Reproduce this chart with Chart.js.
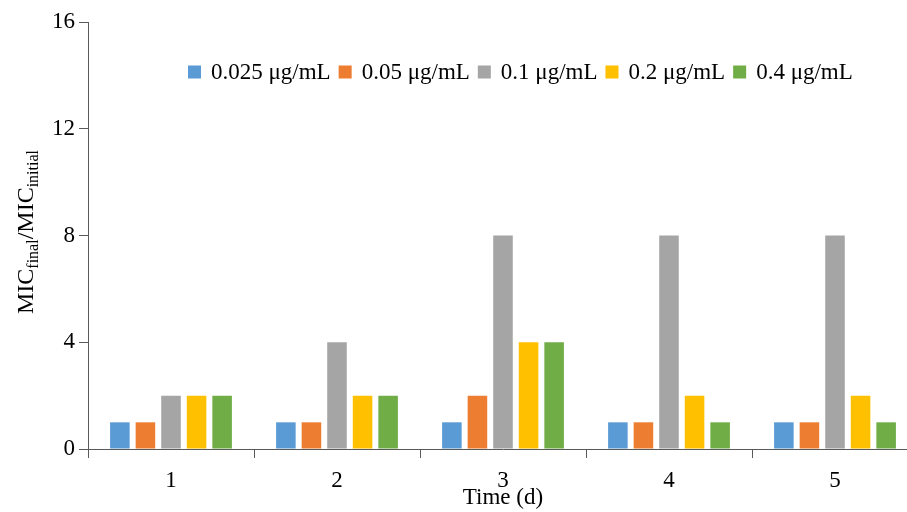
<!DOCTYPE html>
<html>
<head>
<meta charset="utf-8">
<script src="https://cdn.jsdelivr.net/npm/chart.js@4.4.1/dist/chart.umd.min.js"></script>
<style>
html,body{margin:0;padding:0;background:#fff;overflow:hidden;}
#wrap{width:920px;height:512px;}
</style>
</head>
<body>
<div id="wrap"><canvas id="c" width="920" height="512"></canvas></div>
<script>
const categories = ['1', '2', '3', '4', '5'];
const seriesNames = ['0.025 μg/mL', '0.05 μg/mL', '0.1 μg/mL', '0.2 μg/mL', '0.4 μg/mL'];
const s0025 = [1, 1, 1, 1, 1];
const s005  = [1, 1, 2, 1, 1];
const s01   = [2, 4, 8, 8, 8];
const s02   = [2, 2, 4, 2, 2];
const s04   = [2, 2, 4, 1, 1];
const yTicks = [0, 4, 8, 12, 16];
const colors = ['#5B9BD5', '#ED7D31', '#A5A5A5', '#FFC000', '#70AD47'];

const FONT = 'Liberation Serif, Times New Roman, serif';
const FS = 23;
const AXC = '#595959';

const seriesValues = [s0025, s005, s01, s02, s04];
const datasets = seriesValues.map((v, i) => ({
  label: seriesNames[i],
  data: v,
  backgroundColor: colors[i],
  borderWidth: 0,
  categoryPercentage: 0.77,
  barPercentage: 0.765
}));

const legendPlugin = {
  id: 'customLegend',
  afterDraw(chart) {
    const ctx = chart.ctx;
    ctx.save();
    ctx.font = '23px ' + FONT;
    ctx.textBaseline = 'middle';
    ctx.fillStyle = '#000';
    let x = 188;
    const yc = 72;
    chart.data.datasets.forEach((ds) => {
      ctx.fillStyle = ds.backgroundColor;
      ctx.fillRect(x, yc - 6.5, 13, 13);
      x += 23;
      ctx.fillStyle = '#000';
      ctx.fillText(ds.label, x, yc + 1);
      x += ctx.measureText(ds.label).width + 8;
    });
    ctx.restore();
  }
};

const yTitlePlugin = {
  id: 'yTitle',
  afterDraw(chart) {
    const ctx = chart.ctx;
    const parts = [
      ['MIC', false], ['final', true], ['/MIC', false], ['initial', true]
    ];
    const big = '24px ' + FONT;
    const small = '16px ' + FONT;
    ctx.save();
    let total = 0;
    parts.forEach(p => { ctx.font = p[1] ? small : big; total += ctx.measureText(p[0]).width; });
    ctx.translate(33, 232);
    ctx.rotate(-Math.PI / 2);
    ctx.fillStyle = '#000';
    ctx.textBaseline = 'alphabetic';
    let x = -total / 2;
    parts.forEach(p => {
      ctx.font = p[1] ? small : big;
      ctx.fillText(p[0], x, p[1] ? 5 : 0);
      x += ctx.measureText(p[0]).width;
    });
    ctx.restore();
  }
};

new Chart(document.getElementById('c'), {
  type: 'bar',
  data: { labels: categories, datasets },
  options: {
    responsive: false,
    animation: false,
    events: [],
    layout: { padding: { top: 22, right: 2, left: 0, bottom: 0 } },
    plugins: { legend: { display: false }, tooltip: { enabled: false } },
    scales: {
      x: {
        offset: true,
        grid: { display: true, offset: true, drawOnChartArea: false, drawTicks: true, tickLength: 9, color: AXC, lineWidth: 1 },
        border: { display: true, color: AXC, width: 1 },
        ticks: { font: { family: FONT, size: FS }, color: '#000', padding: 9, maxRotation: 0 },
        title: { display: true, text: 'Time (d)', font: { family: FONT, size: FS }, color: '#000', padding: { top: 0, bottom: 0 } },
        afterFit(s) { s.height = 63; }
      },
      y: {
        min: 0, max: 16,
        afterBuildTicks(s) { s.ticks = yTicks.map(v => ({ value: v })); },
        grid: { display: true, drawOnChartArea: false, drawTicks: true, tickLength: 9, color: AXC, lineWidth: 1 },
        border: { display: true, color: AXC, width: 1 },
        ticks: { font: { family: FONT, size: FS }, color: '#000', padding: 4 },
        afterFit(s) { s.width = 88; }
      }
    }
  },
  plugins: [legendPlugin, yTitlePlugin]
});
</script>
</body>
</html>
